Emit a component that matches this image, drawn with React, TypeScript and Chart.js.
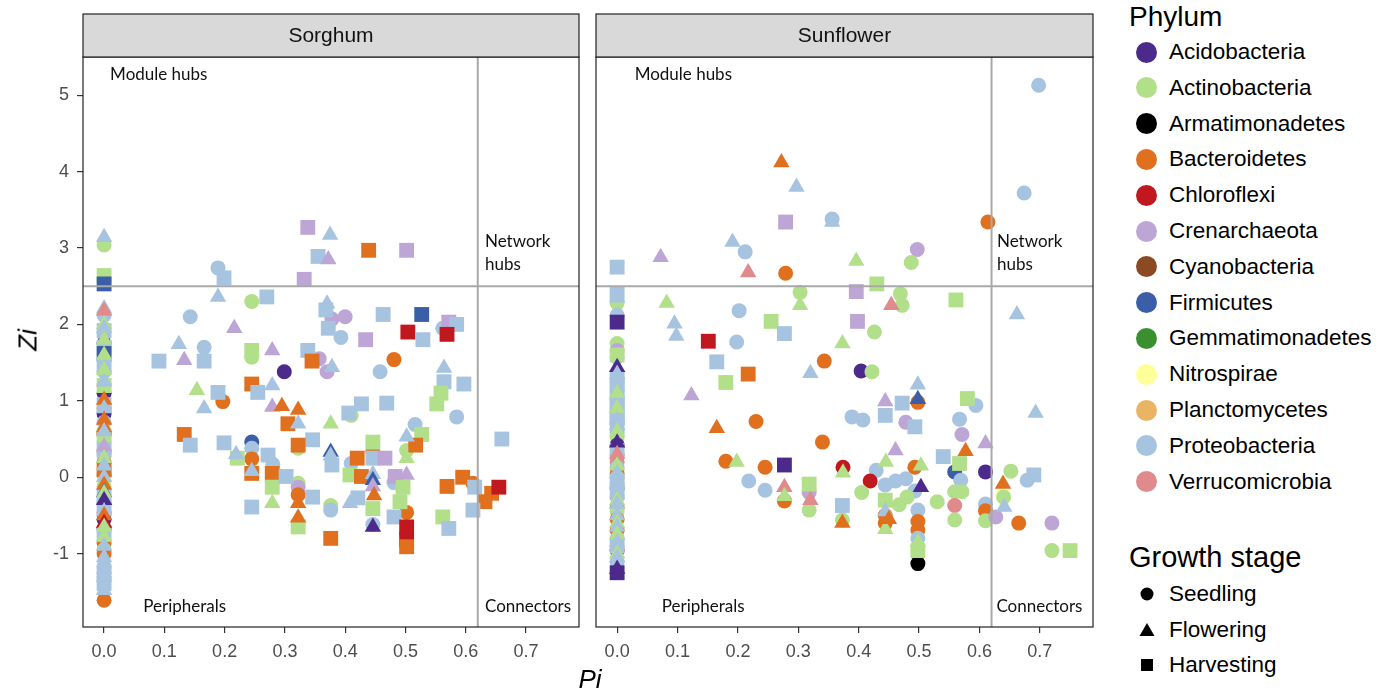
import React, { useEffect, useRef } from 'react';
import { Chart, registerables } from 'chart.js';

Chart.register(...registerables);

type Pt = [number, number, string];

const PHYLA = ['Acidobacteria', 'Actinobacteria', 'Armatimonadetes', 'Bacteroidetes', 'Chloroflexi', 'Crenarchaeota', 'Cyanobacteria', 'Firmicutes', 'Gemmatimonadetes', 'Nitrospirae', 'Planctomycetes', 'Proteobacteria', 'Verrucomicrobia'];
const PHYLUM_CODES = ['Aci', 'Act', 'Arm', 'Bac', 'Chl', 'Cre', 'Cya', 'Fir', 'Gem', 'Nit', 'Pla', 'Pro', 'Ver'];
const PHYLUM_COLORS = ['#4b2a8c', '#b2df8a', '#000000', '#e0701e', '#c1181f', '#bda5d5', '#8b4a22', '#3b5ea8', '#3a9030', '#ffff99', '#e9b565', '#a6c3df', '#e08a8c'];
const STAGES = ['Seedling', 'Flowering', 'Harvesting'];
const FACETS = ['Sorghum', 'Sunflower'];

const X_TICKS = [0, 0.1, 0.2, 0.3, 0.4, 0.5, 0.6, 0.7];
const Y_TICKS = [-1, 0, 1, 2, 3, 4, 5];
const PI_THRESHOLD = 0.62;
const ZI_THRESHOLD = 2.5;

// ---------------- Sorghum ----------------
const SORGHUM_SEEDLING: Pt[] = [
  [0, 3.04, 'Act'], [0, 2.12, 'Pro'], [0, 1.75, 'Aci'], [0, 1.52, 'Act'], [0, 1.38, 'Pro'], [0, 1.22, 'Pro'],
  [0, 1.1, 'Aci'], [0, 0.9, 'Bac'], [0, 0.83, 'Aci'], [0, 0.72, 'Pro'], [0, 0.58, 'Bac'], [0, 0.56, 'Chl'],
  [0, 0.46, 'Pro'], [0, 0.35, 'Act'], [0, 0.31, 'Cre'], [0, 0.2, 'Bac'], [0, 0.1, 'Pla'], [0, 0.05, 'Pro'],
  [0, 0.02, 'Bac'], [0, -0.05, 'Nit'], [0, -0.12, 'Act'], [0, -0.34, 'Bac'], [0, -0.46, 'Bac'], [0, -0.55, 'Aci'],
  [0, -0.67, 'Aci'], [0, -0.86, 'Bac'], [0, -0.95, 'Act'], [0, -1.0, 'Bac'], [0, -1.17, 'Pro'], [0, -1.61, 'Bac'],
  [0.189, 2.74, 'Pro'], [0.245, 2.3, 'Act'], [0.143, 2.1, 'Pro'], [0.166, 1.7, 'Pro'], [0.245, 1.57, 'Act'],
  [0.299, 1.38, 'Aci'], [0.357, 1.55, 'Cre'], [0.37, 1.38, 'Cre'], [0.378, 2.07, 'Cre'], [0.4, 2.1, 'Cre'],
  [0.393, 1.83, 'Pro'], [0.458, 1.38, 'Pro'], [0.562, 1.95, 'Pro'], [0.481, 1.54, 'Bac'], [0.585, 0.79, 'Pro'],
  [0.516, 0.69, 'Pro'], [0.502, 0.35, 'Act'], [0.41, 0.81, 'Act'], [0.446, 0.34, 'Bac'], [0.41, 0.18, 'Pro'],
  [0.197, 0.99, 'Bac'], [0.245, 0.46, 'Fir'], [0.245, 0.38, 'Pro'], [0.245, 0.24, 'Bac'], [0.28, 0.17, 'Pro'],
  [0.322, 0.38, 'Act'], [0.322, -0.08, 'Act'], [0.322, -0.13, 'Cre'], [0.322, -0.23, 'Bac'], [0.376, -0.37, 'Act'],
  [0.376, -0.43, 'Pro'], [0.481, -0.07, 'Pro'], [0.502, -0.46, 'Bac'], [0.502, -0.75, 'Cre'], [0.612, -0.08, 'Bac'],
  [0.446, -0.62, 'Pro'],
];

const SORGHUM_FLOWERING: Pt[] = [
  [0, 3.14, 'Pro'], [0, 2.21, 'Pro'], [0, 2.18, 'Ver'], [0, 2.0, 'Act'], [0, 1.95, 'Pro'], [0, 1.8, 'Act'],
  [0, 1.6, 'Act'], [0, 1.4, 'Act'], [0, 1.25, 'Pro'], [0, 1.01, 'Bac'], [0, 0.9, 'Pro'], [0, 0.75, 'Bac'],
  [0, 0.65, 'Bac'], [0, 0.6, 'Pro'], [0, 0.4, 'Cre'], [0, 0.25, 'Act'], [0, 0.15, 'Pro'], [0, 0.0, 'Pro'],
  [0, -0.1, 'Bac'], [0, -0.2, 'Fir'], [0, -0.21, 'Act'], [0, -0.3, 'Aci'], [0, -0.45, 'Pro'], [0, -0.5, 'Bac'],
  [0, -0.6, 'Chl'], [0, -0.65, 'Act'], [0, -0.78, 'Act'], [0, -0.9, 'Pro'], [0, -1.05, 'Pro'], [0, -1.2, 'Pro'],
  [0, -1.31, 'Pro'], [0, -1.48, 'Pro'],
  [0.375, 3.17, 'Pro'], [0.372, 2.85, 'Cre'], [0.189, 2.36, 'Pro'], [0.216, 1.95, 'Cre'], [0.124, 1.74, 'Pro'],
  [0.133, 1.53, 'Cre'], [0.279, 1.66, 'Cre'], [0.378, 1.44, 'Pro'], [0.37, 2.27, 'Pro'], [0.564, 1.43, 'Pro'],
  [0.502, 0.53, 'Pro'], [0.502, 0.25, 'Act'], [0.154, 1.14, 'Act'], [0.166, 0.9, 'Pro'], [0.279, 1.2, 'Pro'],
  [0.279, 0.92, 'Cre'], [0.295, 0.93, 'Bac'], [0.322, 0.88, 'Bac'], [0.322, 0.7, 'Pro'], [0.376, 0.7, 'Act'],
  [0.219, 0.3, 'Pro'], [0.376, 0.33, 'Fir'], [0.376, 0.28, 'Pro'], [0.446, 0.04, 'Pro'], [0.446, -0.04, 'Fir'],
  [0.446, -0.12, 'Cre'], [0.448, -0.24, 'Bac'], [0.502, 0.03, 'Cre'], [0.279, -0.34, 'Act'], [0.322, -0.34, 'Bac'],
  [0.322, -0.53, 'Bac'], [0.408, -0.34, 'Pro'], [0.446, -0.65, 'Aci'], [0.245, 0.08, 'Pro'],
];

const SORGHUM_HARVESTING: Pt[] = [
  [0, 2.64, 'Act'], [0, 2.53, 'Fir'], [0, 1.92, 'Pro'], [0, 1.7, 'Pro'], [0, 1.62, 'Fir'], [0, 1.45, 'Pro'],
  [0, 1.2, 'Act'], [0, 0.95, 'Pro'], [0, 0.55, 'Act'], [0, 0.35, 'Pro'], [0, 0.1, 'Bac'], [0, -0.25, 'Pro'],
  [0, -0.4, 'Pro'], [0, -0.75, 'Pro'], [0, -1.25, 'Pro'], [0, -1.39, 'Pro'],
  [0.199, 2.61, 'Pro'], [0.338, 3.27, 'Cre'], [0.355, 2.89, 'Pro'], [0.439, 2.97, 'Bac'], [0.332, 2.59, 'Cre'],
  [0.502, 2.97, 'Cre'], [0.27, 2.36, 'Pro'], [0.091, 1.52, 'Pro'], [0.166, 1.52, 'Pro'], [0.245, 1.66, 'Act'],
  [0.338, 1.66, 'Pro'], [0.345, 1.52, 'Bac'], [0.368, 2.19, 'Pro'], [0.372, 1.95, 'Pro'], [0.434, 1.8, 'Cre'],
  [0.463, 2.13, 'Pro'], [0.527, 2.13, 'Fir'], [0.572, 2.03, 'Cre'], [0.585, 2.0, 'Pro'], [0.504, 1.9, 'Chl'],
  [0.569, 1.87, 'Chl'], [0.529, 1.8, 'Pro'], [0.564, 1.25, 'Pro'], [0.597, 1.22, 'Pro'], [0.559, 1.1, 'Act'],
  [0.552, 0.96, 'Act'], [0.66, 0.5, 'Pro'], [0.527, 0.56, 'Act'], [0.517, 0.42, 'Bac'], [0.427, 0.96, 'Pro'],
  [0.469, 0.97, 'Pro'], [0.406, 0.84, 'Pro'], [0.346, 0.49, 'Pro'], [0.378, 0.16, 'Pro'], [0.42, 0.25, 'Bac'],
  [0.446, 0.46, 'Act'], [0.446, 0.25, 'Pro'], [0.466, 0.25, 'Cre'], [0.408, 0.03, 'Act'], [0.427, 0.01, 'Bac'],
  [0.446, -0.41, 'Act'], [0.483, 0.01, 'Cre'], [0.496, -0.13, 'Act'], [0.491, -0.32, 'Act'], [0.481, -0.52, 'Pro'],
  [0.502, -0.82, 'Chl'], [0.502, -0.91, 'Bac'], [0.502, -0.65, 'Chl'], [0.421, -0.27, 'Pro'], [0.376, -0.8, 'Bac'],
  [0.346, -0.26, 'Pro'], [0.569, -0.12, 'Bac'], [0.595, 0.0, 'Bac'], [0.615, -0.13, 'Pro'], [0.643, -0.21, 'Bac'],
  [0.632, -0.32, 'Bac'], [0.655, -0.13, 'Chl'], [0.612, -0.43, 'Pro'], [0.562, -0.52, 'Act'], [0.572, -0.67, 'Pro'],
  [0.245, 1.22, 'Bac'], [0.255, 1.11, 'Pro'], [0.189, 1.11, 'Pro'], [0.305, 0.7, 'Bac'], [0.133, 0.56, 'Bac'],
  [0.143, 0.42, 'Pro'], [0.199, 0.45, 'Pro'], [0.221, 0.25, 'Act'], [0.245, 0.05, 'Bac'], [0.272, 0.29, 'Pro'],
  [0.279, 0.05, 'Bac'], [0.279, -0.13, 'Act'], [0.302, 0.01, 'Pro'], [0.322, 0.42, 'Bac'], [0.322, -0.65, 'Act'],
  [0.245, -0.39, 'Pro'],
];

// ---------------- Sunflower ----------------
const SUNFLOWER_SEEDLING: Pt[] = [
  [0, 2.28, 'Act'], [0, 2.12, 'Pro'], [0, 1.75, 'Act'], [0, 1.66, 'Cre'], [0, 1.57, 'Pro'], [0, 1.0, 'Pro'],
  [0, 0.85, 'Pro'], [0, 0.72, 'Cre'], [0, 0.59, 'Pro'], [0, 0.52, 'Act'], [0, 0.42, 'Aci'], [0, 0.29, 'Bac'],
  [0, 0.2, 'Ver'], [0, 0.13, 'Pro'], [0, 0.05, 'Bac'], [0, 0.0, 'Act'], [0, -0.08, 'Act'], [0, -0.14, 'Aci'],
  [0, -0.26, 'Pro'], [0, -0.39, 'Bac'], [0, -0.45, 'Act'], [0, -0.55, 'Bac'], [0, -0.69, 'Bac'], [0, -0.8, 'Pro'],
  [0, -0.96, 'Chl'], [0, -1.11, 'Pro'],
  [0.698, 5.13, 'Pro'], [0.674, 3.72, 'Pro'], [0.356, 3.38, 'Pro'], [0.614, 3.34, 'Bac'], [0.212, 2.95, 'Pro'],
  [0.279, 2.67, 'Bac'], [0.497, 2.98, 'Cre'], [0.487, 2.81, 'Act'], [0.469, 2.4, 'Act'], [0.472, 2.25, 'Act'],
  [0.303, 2.42, 'Act'], [0.202, 2.18, 'Pro'], [0.198, 1.77, 'Pro'], [0.426, 1.9, 'Act'], [0.343, 1.52, 'Bac'],
  [0.404, 1.39, 'Aci'], [0.422, 1.38, 'Act'], [0.498, 0.98, 'Bac'], [0.389, 0.79, 'Pro'], [0.407, 0.75, 'Pro'],
  [0.478, 0.72, 'Cre'], [0.594, 0.94, 'Pro'], [0.567, 0.76, 'Pro'], [0.571, 0.56, 'Cre'], [0.34, 0.46, 'Bac'],
  [0.23, 0.73, 'Bac'], [0.18, 0.21, 'Bac'], [0.245, 0.13, 'Bac'], [0.218, -0.05, 'Pro'], [0.245, -0.17, 'Pro'],
  [0.277, -0.31, 'Bac'], [0.374, 0.13, 'Chl'], [0.493, 0.13, 'Bac'], [0.559, 0.07, 'Fir'], [0.61, 0.07, 'Aci'],
  [0.429, 0.09, 'Pro'], [0.419, -0.05, 'Chl'], [0.444, -0.1, 'Pro'], [0.461, -0.05, 'Pro'], [0.478, -0.02, 'Pro'],
  [0.493, -0.18, 'Pro'], [0.569, -0.04, 'Pro'], [0.559, -0.19, 'Act'], [0.571, -0.19, 'Act'], [0.53, -0.32, 'Act'],
  [0.405, -0.2, 'Act'], [0.467, -0.36, 'Act'], [0.48, -0.26, 'Act'], [0.559, -0.37, 'Ver'], [0.559, -0.56, 'Act'],
  [0.61, -0.35, 'Pro'], [0.61, -0.44, 'Bac'], [0.61, -0.57, 'Act'], [0.318, -0.2, 'Cre'], [0.318, -0.43, 'Act'],
  [0.373, -0.56, 'Act'], [0.498, -0.43, 'Pro'], [0.444, -0.5, 'Bac'], [0.444, -0.6, 'Bac'], [0.498, -0.58, 'Bac'],
  [0.498, -0.69, 'Bac'], [0.498, -0.8, 'Pro'], [0.498, -1.13, 'Arm'], [0.652, 0.08, 'Act'], [0.679, -0.04, 'Pro'],
  [0.639, -0.24, 'Nit'], [0.64, -0.26, 'Act'], [0.627, -0.52, 'Cre'], [0.665, -0.6, 'Bac'], [0.72, -0.6, 'Cre'],
  [0.72, -0.96, 'Act'],
];

const SUNFLOWER_FLOWERING: Pt[] = [
  [0, 2.35, 'Pro'], [0, 1.44, 'Aci'], [0, 1.35, 'Pro'], [0, 1.1, 'Act'], [0, 0.9, 'Act'], [0, 0.75, 'Pro'],
  [0, 0.68, 'Pro'], [0, 0.6, 'Act'], [0, 0.45, 'Aci'], [0, 0.3, 'Ver'], [0, 0.15, 'Act'], [0, 0.05, 'Pro'],
  [0, -0.3, 'Act'], [0, -0.35, 'Pro'], [0, -0.5, 'Pro'], [0, -0.6, 'Act'], [0, -0.65, 'Pro'], [0, -0.75, 'Act'],
  [0, -0.85, 'Pro'], [0, -1.0, 'Act'], [0, -1.05, 'Pro'], [0, -1.2, 'Aci'],
  [0.272, 4.12, 'Bac'], [0.297, 3.8, 'Pro'], [0.356, 3.34, 'Pro'], [0.191, 3.08, 'Pro'], [0.072, 2.88, 'Cre'],
  [0.217, 2.68, 'Ver'], [0.396, 2.83, 'Act'], [0.454, 2.25, 'Ver'], [0.303, 2.25, 'Act'], [0.082, 2.28, 'Act'],
  [0.095, 2.01, 'Pro'], [0.098, 1.85, 'Pro'], [0.123, 1.07, 'Cre'], [0.165, 0.64, 'Bac'], [0.198, 0.2, 'Act'],
  [0.277, -0.13, 'Ver'], [0.277, -0.25, 'Act'], [0.373, 1.75, 'Act'], [0.32, 1.36, 'Pro'], [0.498, 1.21, 'Pro'],
  [0.498, 1.02, 'Fir'], [0.444, 0.99, 'Cre'], [0.461, 0.35, 'Cre'], [0.577, 0.34, 'Bac'], [0.61, 0.44, 'Cre'],
  [0.374, 0.06, 'Act'], [0.445, 0.2, 'Act'], [0.503, 0.15, 'Act'], [0.503, -0.13, 'Aci'], [0.32, -0.3, 'Ver'],
  [0.373, -0.6, 'Bac'], [0.444, -0.45, 'Pro'], [0.444, -0.68, 'Act'], [0.693, 0.84, 'Pro'], [0.662, 2.13, 'Pro'],
  [0.639, -0.09, 'Bac'], [0.641, -0.39, 'Pro'], [0.498, -0.85, 'Act'], [0.45, -0.55, 'Bac'],
];

const SUNFLOWER_HARVESTING: Pt[] = [
  [0, 2.75, 'Pro'], [0, 2.4, 'Pro'], [0, 2.03, 'Aci'], [0, 1.6, 'Act'], [0, 1.31, 'Pro'], [0, 1.2, 'Pro'],
  [0, 1.1, 'Pro'], [0, 0.98, 'Pro'], [0, 0.88, 'Pro'], [0, 0.78, 'Pro'], [0, 0.7, 'Pro'], [0, 0.35, 'Pro'],
  [0, -0.05, 'Pro'], [0, -0.2, 'Pro'], [0, -0.9, 'Pro'], [0, -1.25, 'Aci'],
  [0.279, 3.34, 'Cre'], [0.396, 2.43, 'Cre'], [0.43, 2.53, 'Act'], [0.561, 2.32, 'Act'], [0.151, 1.78, 'Chl'],
  [0.255, 2.04, 'Act'], [0.277, 1.88, 'Pro'], [0.165, 1.51, 'Pro'], [0.18, 1.24, 'Act'], [0.217, 1.35, 'Bac'],
  [0.398, 2.04, 'Cre'], [0.277, 0.16, 'Aci'], [0.472, 0.97, 'Pro'], [0.444, 0.81, 'Pro'], [0.493, 0.66, 'Pro'],
  [0.58, 1.03, 'Act'], [0.54, 0.27, 'Pro'], [0.567, 0.18, 'Act'], [0.318, -0.09, 'Act'], [0.373, -0.37, 'Pro'],
  [0.444, -0.3, 'Act'], [0.498, -0.96, 'Act'], [0.69, 0.03, 'Pro'], [0.75, -0.96, 'Act'],
];

const SORGHUM_ROLE_LABELS = [
  { text: 'Module hubs', pi: 0.01, zi: 5.27 },
  { text: 'Network', pi: 0.632, zi: 3.08 },
  { text: 'hubs', pi: 0.632, zi: 2.79 },
  { text: 'Peripherals', pi: 0.065, zi: -1.69 },
  { text: 'Connectors', pi: 0.632, zi: -1.69 },
];
const SUNFLOWER_ROLE_LABELS = [
  { text: 'Module hubs', pi: 0.029, zi: 5.27 },
  { text: 'Network', pi: 0.629, zi: 3.08 },
  { text: 'hubs', pi: 0.629, zi: 2.79 },
  { text: 'Peripherals', pi: 0.074, zi: -1.69 },
  { text: 'Connectors', pi: 0.628, zi: -1.69 },
];

const FONT = '"Liberation Sans", Arial, Helvetica, sans-serif';
const PANEL_FONT = 'Lato, "Open Sans", sans-serif';

const STYLE_OF = ['circle', 'triangle', 'rect'];
const RADIUS_OF = [7.5, 9.5, 10.5];

function colorOf(code: string) {
  return PHYLUM_COLORS[PHYLUM_CODES.indexOf(code)];
}

function buildDatasets(series: Pt[][]) {
  // draw order: flowering, harvesting, seedling
  const order = [1, 2, 0];
  return order.map((si) => ({
    label: STAGES[si],
    data: series[si].map((p) => ({ x: p[0], y: p[1] })),
    pointStyle: STYLE_OF[si],
    pointRadius: RADIUS_OF[si],
    pointHoverRadius: RADIUS_OF[si],
    pointBackgroundColor: series[si].map((p) => colorOf(p[2])),
    pointBorderWidth: 0,
    borderWidth: 0,
    showLine: false,
  }));
}

const panelDecor = {
  id: 'panelDecor',
  afterDatasetsDraw(chart: any, _args: any, opts: any) {
    const { ctx, chartArea, scales } = chart;
    const x = scales.x;
    const y = scales.y;
    ctx.save();
    ctx.strokeStyle = '#a9a9a9';
    ctx.lineWidth = 2;
    const vx = x.getPixelForValue(PI_THRESHOLD);
    const hy = y.getPixelForValue(ZI_THRESHOLD);
    ctx.beginPath();
    ctx.moveTo(vx, chartArea.top);
    ctx.lineTo(vx, chartArea.bottom);
    ctx.moveTo(chartArea.left, hy);
    ctx.lineTo(chartArea.right, hy);
    ctx.stroke();

    ctx.fillStyle = '#111';
    ctx.font = `17px ${PANEL_FONT}`;
    ctx.textAlign = 'left';
    ctx.textBaseline = 'middle';
    (opts.labels || []).forEach((l: any) => {
      ctx.fillText(l.text, x.getPixelForValue(l.pi), y.getPixelForValue(l.zi));
    });
    ctx.restore();
  },
  afterDraw(chart: any, _args: any, opts: any) {
    const { ctx, chartArea } = chart;
    ctx.save();
    ctx.strokeStyle = '#222';
    ctx.lineWidth = 1.2;
    ctx.strokeRect(chartArea.left, chartArea.top, chartArea.right - chartArea.left, chartArea.bottom - chartArea.top);
    // facet strip
    const top = 14;
    const h = chartArea.top - top;
    ctx.fillStyle = '#d9d9d9';
    ctx.fillRect(chartArea.left, top, chartArea.right - chartArea.left, h);
    ctx.strokeRect(chartArea.left, top, chartArea.right - chartArea.left, h);
    ctx.fillStyle = '#111';
    ctx.font = `21px ${FONT}`;
    ctx.textAlign = 'center';
    ctx.textBaseline = 'middle';
    ctx.fillText(opts.title, (chartArea.left + chartArea.right) / 2, top + h / 2 + 1);
    ctx.restore();
  },
};

function makeOptions(title: string, labels: any[], showY: boolean, padLeft: number, padRight: number) {
  const tickFont = { size: 18, family: FONT };
  return {
    responsive: false,
    animation: false as const,
    events: [],
    layout: { autoPadding: false, padding: { top: 57, right: padRight, left: padLeft, bottom: 0 } },
    plugins: {
      legend: { display: false },
      tooltip: { enabled: false },
      panelDecor: { title, labels },
    },
    scales: {
      x: {
        type: 'linear' as const,
        min: -0.035,
        max: 0.788,
        afterBuildTicks: (s: any) => { s.ticks = X_TICKS.map((v) => ({ value: v })); },
        afterFit: (s: any) => { s.height = 65; s.paddingLeft = 0; s.paddingRight = 0; },
        grid: { drawOnChartArea: false, drawTicks: true, tickLength: 6, color: '#333', lineWidth: 1.2 },
        border: { display: false },
        ticks: {
          font: tickFont,
          color: '#4d4d4d',
          padding: 8,
          maxRotation: 0,
          autoSkip: false,
          callback: (v: any) => Number(v).toFixed(1),
        },
      },
      y: {
        type: 'linear' as const,
        display: showY,
        min: -1.96,
        max: 5.5,
        afterBuildTicks: (s: any) => { s.ticks = Y_TICKS.map((v) => ({ value: v })); },
        afterFit: (s: any) => { s.width = showY ? 83 : 0; s.paddingTop = 0; s.paddingBottom = 0; },
        grid: { drawOnChartArea: false, drawTicks: true, tickLength: 6, color: '#333', lineWidth: 1.2 },
        border: { display: false },
        ticks: {
          font: tickFont,
          color: '#4d4d4d',
          padding: 8,
          autoSkip: false,
          callback: (v: any) => String(v),
        },
      },
    },
  };
}

function ShapeIcon({ kind }: { kind: number }) {
  return (
    <svg width={20} height={20} viewBox="0 0 20 20" style={{ display: 'block' }}>
      {kind === 0 && <circle cx={10} cy={10} r={6.5} fill="#000" />}
      {kind === 1 && <polygon points="10,3 17.5,16 2.5,16" fill="#000" />}
      {kind === 2 && <rect x={4} y={4} width={12} height={12} fill="#000" />}
    </svg>
  );
}

export default function App() {
  const c1 = useRef<HTMLCanvasElement>(null);
  const c2 = useRef<HTMLCanvasElement>(null);

  useEffect(() => {
    const ch1 = new Chart(c1.current as HTMLCanvasElement, {
      type: 'scatter',
      data: { datasets: buildDatasets([SORGHUM_SEEDLING, SORGHUM_FLOWERING, SORGHUM_HARVESTING]) as any },
      options: makeOptions(FACETS[0], SORGHUM_ROLE_LABELS, true, 0, 11) as any,
      plugins: [panelDecor],
    });
    const ch2 = new Chart(c2.current as HTMLCanvasElement, {
      type: 'scatter',
      data: { datasets: buildDatasets([SUNFLOWER_SEEDLING, SUNFLOWER_FLOWERING, SUNFLOWER_HARVESTING]) as any },
      options: makeOptions(FACETS[1], SUNFLOWER_ROLE_LABELS, false, 6, 7) as any,
      plugins: [panelDecor],
    });
    return () => {
      ch1.destroy();
      ch2.destroy();
    };
  }, []);

  const rowStep = 35.8;
  return (
    <div style={{ position: 'absolute', left: 0, top: 0, width: 1389, height: 692, background: '#fff', fontFamily: FONT, color: '#000', overflow: 'hidden' }}>
      <canvas ref={c1} width={590} height={692} style={{ position: 'absolute', left: 0, top: 0 }} />
      <canvas ref={c2} width={510} height={692} style={{ position: 'absolute', left: 590, top: 0 }} />

      <div style={{ position: 'absolute', left: 28, top: 340, transform: 'translate(-50%, -50%) rotate(-90deg)', fontSize: 26, fontStyle: 'italic', whiteSpace: 'nowrap' }}>Zi</div>
      <div style={{ position: 'absolute', left: 590, top: 679, transform: 'translate(-50%, -50%)', fontSize: 26, fontStyle: 'italic', whiteSpace: 'nowrap' }}>Pi</div>

      <div style={{ position: 'absolute', left: 1129, top: 0, height: 34, lineHeight: '34px', fontSize: 28, whiteSpace: 'nowrap' }}>Phylum</div>
      {PHYLA.map((name, i) => (
        <div key={name} style={{ position: 'absolute', left: 1136, top: 52 + rowStep * i - 18, height: 36, display: 'flex', alignItems: 'center', whiteSpace: 'nowrap' }}>
          <div style={{ width: 21, height: 21, borderRadius: '50%', background: PHYLUM_COLORS[i] }} />
          <div style={{ marginLeft: 12, fontSize: 22.5 }}>{name}</div>
        </div>
      ))}
      <div style={{ position: 'absolute', left: 1129, top: 540, height: 34, lineHeight: '34px', fontSize: 29, whiteSpace: 'nowrap' }}>Growth stage</div>
      {STAGES.map((s, i) => (
        <div key={s} style={{ position: 'absolute', left: 1137, top: 594 + 35.5 * i - 18, height: 36, display: 'flex', alignItems: 'center', whiteSpace: 'nowrap' }}>
          <ShapeIcon kind={i} />
          <div style={{ marginLeft: 12, fontSize: 22.5 }}>{s}</div>
        </div>
      ))}
    </div>
  );
}
